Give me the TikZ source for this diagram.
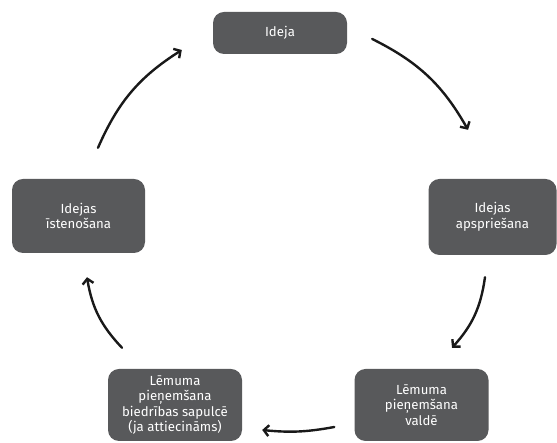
\documentclass[tikz,border=0pt]{standalone}
\usepackage{fontspec}
\setmainfont{Fira Sans}
\usetikzlibrary{arrows.meta,calc}
\definecolor{boxgray}{HTML}{58595B}
\begin{document}
\begin{tikzpicture}[x=1pt,y=1pt,line join=round,line cap=round,
	stage/.style={fill=boxgray,rounded corners=11pt,text=white,align=center,font=\fontsize{13.2}{15.5}\selectfont,inner sep=0pt},
	arr/.style={-{Straight Barb[length=5pt,width=11pt]},line width=2.4pt,black!90}]
	\useasboundingbox (0,0) rectangle (557,443);
	\node[stage,minimum width=134,minimum height=42] (ideja) at (280,410) {Ideja};
	\node[stage,minimum width=128,minimum height=76] (apsp) at (492.5,226) {Idejas\\apspriešana};
	\node[stage,minimum width=134,minimum height=72] (valde) at (421.5,38) {Lēmuma\\pieņemšana\\valdē};
	\node[stage,minimum width=134,minimum height=72] (sapulce) at (175,38) {Lēmuma\\pieņemšana\\biedrības sapulcē\\(ja attiecināms)};
	\node[stage,minimum width=133,minimum height=74] (isten) at (78.5,227) {Idejas\\īstenošana};
	% arrows between the stages
	\draw[arr] ($(ideja.east)+(25,-6)$) to[bend left=17] ($(apsp.north)+(-24.5,49)$);
	\draw[arr] ($(apsp.south)+(-7.5,-22)$) to[bend left=17] ($(valde.north)+(30.5,21)$);
	\draw[arr] ($(valde.west)+(-20,-22)$) to[bend left=8] ($(sapulce.east)+(20,-25)$);
	\draw[arr] ($(sapulce.north)+(-53,21)$) to[bend left=17] ($(isten.south)+(8.5,-24)$);
	\draw[arr] ($(isten.north)+(19.5,31)$) to[bend left=17] ($(ideja.west)+(-31,-17)$);
\end{tikzpicture}
\end{document}
